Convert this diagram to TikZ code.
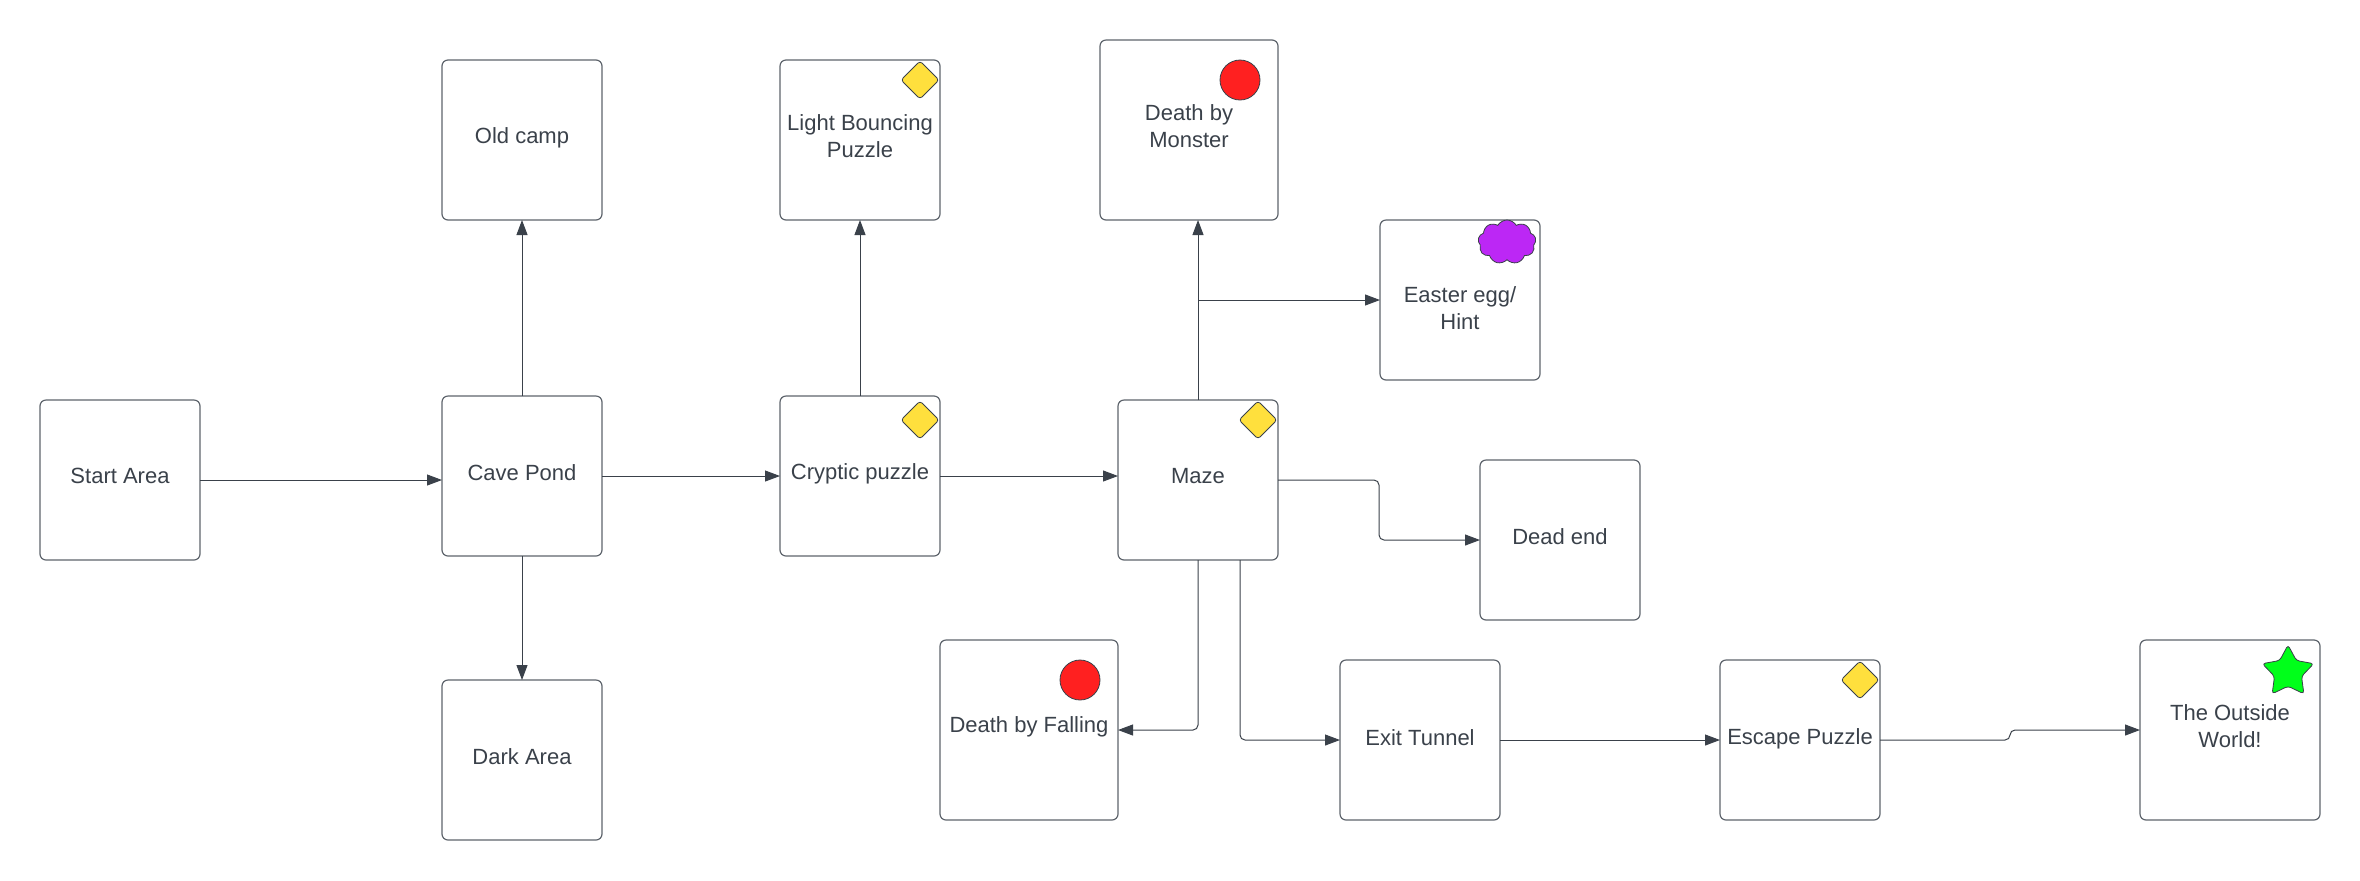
\documentclass[tikz,border=0pt]{standalone}
\usepackage{fontspec}
\setmainfont{Liberation Sans}
\usepackage{tikz}
\usetikzlibrary{arrows.meta,shapes.geometric,shapes.symbols}
\definecolor{inkline}{HTML}{3A414A}
\definecolor{boxline}{HTML}{5E646C}
\definecolor{puzzleyellow}{HTML}{FFE03D}
\definecolor{deathred}{HTML}{FF2020}
\definecolor{hintpurple}{HTML}{BC27F5}
\definecolor{goalgreen}{HTML}{00FF1A}
\tikzset{
	roomtext/.style={font=\fontsize{11}{13.5}\selectfont, text=inkline, align=center, inner sep=0pt, yshift=1.8pt},
	room/.style={draw=boxline, line width=0.6pt, rounded corners=3pt, outer sep=0pt, minimum width=80pt, minimum height=80pt},
	link/.style={draw=inkline, line width=0.5pt, rounded corners=2.5pt, -{Triangle[length=7.5pt,width=5.5pt]}},
	badge/.style={draw=inkline, line width=0.4pt, inner sep=0pt, outer sep=0pt},
	puzzle/.style={badge, diamond, fill=puzzleyellow, rounded corners=1.5pt, minimum width=19pt, minimum height=19pt},
	death/.style={badge, circle, fill=deathred, minimum size=20pt},
	hint/.style={badge, cloud, cloud puffs=9, cloud puff arc=120, aspect=1.3, fill=hintpurple, minimum width=29pt, minimum height=22pt},
	goal/.style={badge, star, star points=5, star point ratio=1.9, rounded corners=1.5pt, fill=goalgreen, minimum size=27pt},
}
\begin{document}
\begin{tikzpicture}[x=0.5pt, y=-0.5pt]
	\useasboundingbox (0,0) rectangle (2360,880);
	% rooms
	\node[room, label={[roomtext]center:Start Area}] (start) at (120,480) {};
	\node[room, label={[roomtext, yshift=-0.5pt]center:Old camp}] (oldcamp) at (522,140) {};
	\node[room, label={[roomtext]center:Cave Pond}] (cave) at (522,476) {};
	\node[room, label={[roomtext]center:Dark Area}] (dark) at (522,760) {};
	\node[room, label={[roomtext]center:Light Bouncing\\Puzzle}] (light) at (860,140) {};
	\node[room, label={[roomtext, yshift=-0.5pt]center:Cryptic puzzle}] (cryptic) at (860,476) {};
	\node[room, minimum width=89pt, minimum height=90pt, label={[roomtext]center:Death by\\Monster}] (monster) at (1189,130) {};
	\node[room, label={[roomtext, yshift=-6pt]center:Easter egg/\\Hint}] (easter) at (1460,300) {};
	\node[room, label={[roomtext]center:Maze}] (maze) at (1198,480) {};
	\node[room, label={[roomtext]center:Dead end}] (deadend) at (1560,540) {};
	\node[room, minimum width=89pt, minimum height=90pt, label={[roomtext]center:Death by Falling}] (falling) at (1029,730) {};
	\node[room, label={[roomtext, yshift=-0.5pt]center:Exit Tunnel}] (exit) at (1420,740) {};
	\node[room, label={[roomtext, yshift=-1pt]center:Escape Puzzle}] (escape) at (1800,740) {};
	\node[room, minimum width=90pt, minimum height=90pt, label={[roomtext]center:The Outside\\World!}] (outside) at (2230,730) {};
	% badges
	\node[puzzle] (lightmark) at (920,80) {};
	\node[puzzle] (crypticmark) at (920,420) {};
	\node[puzzle] (mazemark) at (1258,420) {};
	\node[puzzle] (escapemark) at (1860,680) {};
	\node[death] (monstermark) at (1240,80) {};
	\node[death] (fallingmark) at (1080,680) {};
	\node[hint] (eastermark) at (1507,242) {};
	\node[goal] (outsidemark) at (2288,672) {};
	% bends
	\coordinate (mazebend) at (1379,480);
	\coordinate (mazeexit) at (1240,560);
	\coordinate (escapebend) at (2010,740);
	% links
	\draw[link] (start.east) -- (start.east -| cave.west);
	\draw[link] (cave) -- (oldcamp);
	\draw[link] (cave) -- (dark);
	\draw[link] (cave.east) -- (cryptic.west);
	\draw[link] (cryptic.north) -- (light.south);
	\draw[link] (cryptic.east) -- (cryptic.east -| maze.west);
	\draw[link] (maze.north) -- (maze.north |- monster.south);
	\draw[link] (maze.north |- easter.west) -- (easter.west);
	\draw[link] (maze.east) -- (mazebend) |- (deadend.west);
	\draw[link] (maze.south) |- (falling.east);
	\draw[link] (mazeexit) |- (exit.west);
	\draw[link] (exit.east) -- (escape.west);
	\draw[link] (escape.east) -- (escapebend) |- (outside.west);
\end{tikzpicture}
\end{document}
